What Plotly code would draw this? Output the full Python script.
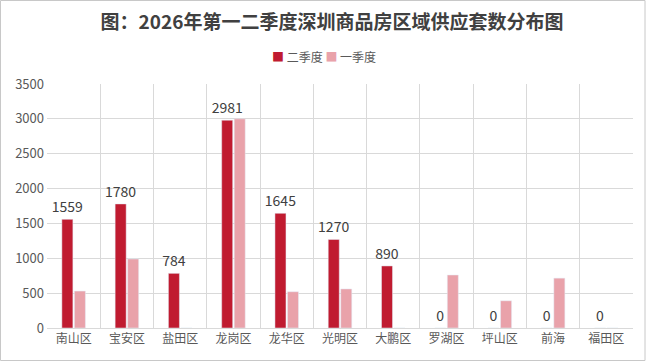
import plotly.graph_objects as go

categories = ["南山区", "宝安区", "盐田区", "龙岗区", "龙华区", "光明区", "大鹏区", "罗湖区", "坪山区", "前海", "福田区"]
q2_values = [1559, 1780, 784, 2981, 1645, 1270, 890, 0, 0, 0, 0]
q1_values = [530, 990, 0, 3000, 520, 560, 0, 760, 390, 715, 0]
y_ticks = [0, 500, 1000, 1500, 2000, 2500, 3000, 3500]
series_names = ["二季度", "一季度"]
series_colors = ["#C01B30", "#E9A2AA"]

W, H = 648, 362
ml, mr, mt, mb = 47, 15, 84, 34

font_family = "Noto Sans CJK SC, Microsoft YaHei, sans-serif"

fig = go.Figure()
fig.add_trace(go.Bar(
    x=categories, y=q2_values, name=series_names[0],
    marker=dict(color=series_colors[0]),
    text=[str(v) for v in q2_values], textposition="outside",
    textfont=dict(size=14, color="#404040", family=font_family),
    cliponaxis=False,
))
fig.add_trace(go.Bar(
    x=categories, y=q1_values, name=series_names[1],
    marker=dict(color=series_colors[1]),
))

pw = W - ml - mr
ph = H - mt - mb
fig.add_shape(type="rect", xref="paper", yref="paper",
              x0=-ml / pw + 0.5 / pw, x1=1 + (mr - 3) / pw,
              y0=-mb / ph + 1.5 / ph, y1=1 + mt / ph - 0.5 / ph,
              line=dict(color="#C8C8C8", width=1), layer="below")

legend_html = " ".join(
    f"<span style='color:{c}'>■</span> {n}" for n, c in zip(series_names, series_colors)
)
fig.add_annotation(
    text=legend_html, xref="paper", yref="paper",
    x=(324 - ml) / pw, y=1 + (mt - 56) / ph, xanchor="center", yanchor="middle",
    showarrow=False, font=dict(size=12, color="#595959", family=font_family),
)

fig.update_layout(
    width=W, height=H,
    margin=dict(l=ml, r=mr, t=mt, b=mb),
    paper_bgcolor="white", plot_bgcolor="white",
    font=dict(family=font_family, color="#595959", size=12),
    title=dict(text="<b>图：2026年第一二季度深圳商品房区域供应套数分布图</b>",
               x=332 / W, xanchor="center", y=1 - 22 / H, yanchor="middle",
               font=dict(size=19, color="#404040", family=font_family)),
    barmode="group", bargap=0.53, bargroupgap=0.12,
    showlegend=False,
    uniformtext=dict(minsize=14, mode="show"),
)
fig.update_xaxes(
    type="category", tickson="boundaries", showgrid=True, gridcolor="#D9D9D9", gridwidth=1,
    showline=True, linecolor="#D9D9D9", ticks="", tickfont=dict(size=12, color="#595959"),
    automargin=False,
)
fig.update_yaxes(
    range=[0, 3500], tickvals=y_ticks, showgrid=True, gridcolor="#D9D9D9", gridwidth=1,
    zeroline=False, showline=False, ticks="", tickfont=dict(size=13, color="#595959"),
    automargin=False, ticklabelstandoff=2,
)
fig.write_html("out.html", config={"displayModeBar": False},
               post_script="document.body.style.margin='0px';")
